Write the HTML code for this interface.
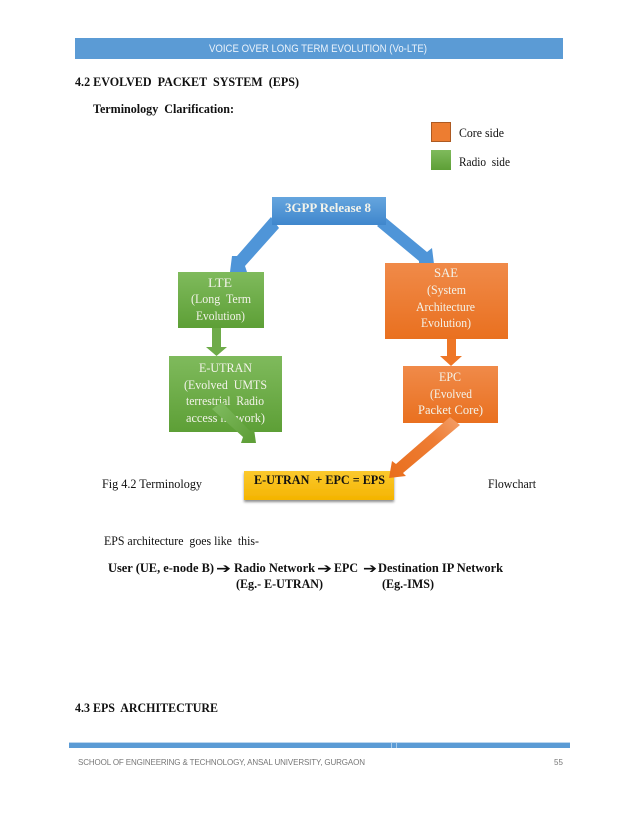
<!DOCTYPE html>
<html>
<head>
<meta charset="utf-8">
<title>4.2 Evolved Packet System</title>
<style>
html,body{margin:0;padding:0;background:#fff;width:638px;height:826px;overflow:hidden}
svg{display:block;filter:blur(.3px)}
text{font-family:"Liberation Serif",serif;font-size:13px;fill:#111;white-space:pre}
.b{font-weight:bold}
.w{fill:#f3f3ea}
.s{font-family:"Liberation Sans",sans-serif}
.a{font-family:"DejaVu Sans",sans-serif;font-weight:bold;font-size:14px}
</style>
</head>
<body>
<svg width="638" height="826" viewBox="0 0 638 826" xmlns="http://www.w3.org/2000/svg">
<defs>
<linearGradient id="blue" x1="0" y1="0" x2="0" y2="1"><stop offset="0" stop-color="#65a5de"/><stop offset="1" stop-color="#3f86cc"/></linearGradient>
<linearGradient id="green" x1="0" y1="0" x2="0" y2="1"><stop offset="0" stop-color="#7fba5c"/><stop offset="1" stop-color="#5d9f36"/></linearGradient>
<linearGradient id="orange" x1="0" y1="0" x2="0" y2="1"><stop offset="0" stop-color="#f08a49"/><stop offset="1" stop-color="#e9701f"/></linearGradient>
<linearGradient id="yellow" x1="0" y1="0" x2="0" y2="1"><stop offset="0" stop-color="#fbc92e"/><stop offset="1" stop-color="#f4b400"/></linearGradient>
<linearGradient id="gdiag" gradientUnits="userSpaceOnUse" x1="214" y1="405" x2="250" y2="440"><stop offset="0" stop-color="#7fbb5f"/><stop offset="1" stop-color="#5f9f38"/></linearGradient>
<linearGradient id="odiag" gradientUnits="userSpaceOnUse" x1="455" y1="420" x2="392" y2="475"><stop offset="0" stop-color="#f29a62"/><stop offset=".35" stop-color="#ee7d34"/><stop offset="1" stop-color="#e96f1e"/></linearGradient>
<filter id="shadow" x="-10%" y="-20%" width="120%" height="150%"><feDropShadow dx="0" dy="2" stdDeviation="1.2" flood-color="#000" flood-opacity=".45"/></filter>
</defs>

<!-- Header -->
<rect x="75" y="38" width="488" height="21" fill="#5b9bd5"/>
<text class="s" x="209" y="52" style="font-size:11px;fill:#eaf2fa" textLength="218" lengthAdjust="spacingAndGlyphs">VOICE OVER LONG TERM EVOLUTION (Vo-LTE)</text>

<!-- Headings -->
<text class="b" x="75" y="86" textLength="224" lengthAdjust="spacingAndGlyphs">4.2 EVOLVED  PACKET  SYSTEM  (EPS)</text>
<text class="b" x="93" y="113" textLength="141" lengthAdjust="spacingAndGlyphs">Terminology  Clarification:</text>

<!-- Legend -->
<rect x="431.5" y="122.5" width="19" height="19" fill="#ed7d31" stroke="#ad5a22"/>
<text x="459" y="137" textLength="45" lengthAdjust="spacingAndGlyphs">Core side</text>
<rect x="431" y="150" width="20" height="20" fill="url(#green)"/>
<text x="459" y="166" textLength="51" lengthAdjust="spacingAndGlyphs">Radio  side</text>

<!-- Blue arrows -->
<polygon points="279,228 271,217 237,256 232,256 230,272 247,272 245,266" fill="#4f95d8"/>
<polygon points="386,218 427,252 432,248 434,264 419,264 419,261 377,226" fill="#4f95d8"/>

<!-- Down arrows -->
<polygon points="212,328 221,328 221,347 227,347 216.5,356 206,347 212,347" fill="#6eab49"/>
<polygon points="447,339 456,339 456,356 462,356 451,366 440,356 447,356" fill="#ee7626"/>

<!-- Boxes -->
<rect x="272" y="197" width="114" height="28" fill="url(#blue)"/>
<text class="b w" x="285" y="212" textLength="86" lengthAdjust="spacingAndGlyphs">3GPP Release 8</text>

<rect x="178" y="272" width="86" height="56" fill="url(#green)"/>
<text class="w" x="208" y="287" textLength="24" lengthAdjust="spacingAndGlyphs">LTE</text>
<text class="w" x="191" y="303" textLength="60" lengthAdjust="spacingAndGlyphs">(Long  Term</text>
<text class="w" x="196" y="320" textLength="49" lengthAdjust="spacingAndGlyphs">Evolution)</text>

<rect x="385" y="263" width="123" height="76" fill="url(#orange)"/>
<text class="w" x="434" y="277" textLength="24" lengthAdjust="spacingAndGlyphs">SAE</text>
<text class="w" x="427" y="294" textLength="39" lengthAdjust="spacingAndGlyphs">(System</text>
<text class="w" x="416" y="311" textLength="59" lengthAdjust="spacingAndGlyphs">Architecture</text>
<text class="w" x="421" y="327" textLength="50" lengthAdjust="spacingAndGlyphs">Evolution)</text>

<rect x="169" y="356" width="113" height="76" fill="url(#green)"/>
<text class="w" x="199" y="372" textLength="53" lengthAdjust="spacingAndGlyphs">E-UTRAN</text>
<text class="w" x="184" y="389" textLength="83" lengthAdjust="spacingAndGlyphs">(Evolved  UMTS</text>
<text class="w" x="186" y="405" textLength="78" lengthAdjust="spacingAndGlyphs">terrestrial  Radio</text>
<text class="w" x="186" y="422" textLength="79" lengthAdjust="spacingAndGlyphs">access network)</text>

<rect x="403" y="366" width="95" height="57" fill="url(#orange)"/>
<text class="w" x="439" y="381" textLength="22" lengthAdjust="spacingAndGlyphs">EPC</text>
<text class="w" x="430" y="398" textLength="42" lengthAdjust="spacingAndGlyphs">(Evolved</text>
<text class="w" x="418" y="414" textLength="65" lengthAdjust="spacingAndGlyphs">Packet Core)</text>

<rect x="244" y="471" width="150" height="29" fill="url(#yellow)" filter="url(#shadow)"/>
<text class="b" x="254" y="484" textLength="131" lengthAdjust="spacingAndGlyphs">E-UTRAN  + EPC = EPS</text>

<!-- Diagonal arrows over boxes -->
<polygon points="222,402 250,431 254,429 256,443 241,443 243,437 212,409" fill="url(#gdiag)"/>
<polygon points="450,417 396,464 392,461 389,478 406,476 403,473 460,425" fill="url(#odiag)"/>

<!-- Caption -->
<text x="102" y="488" textLength="100" lengthAdjust="spacingAndGlyphs">Fig 4.2 Terminology</text>
<text x="488" y="488" textLength="48" lengthAdjust="spacingAndGlyphs">Flowchart</text>

<!-- Body -->
<text x="104" y="545" textLength="155" lengthAdjust="spacingAndGlyphs">EPS architecture  goes like  this-</text>
<text class="b" x="108" y="572" textLength="106" lengthAdjust="spacingAndGlyphs">User (UE, e-node B)</text>
<text class="a" x="216" y="573" textLength="15" lengthAdjust="spacingAndGlyphs">➔</text>
<text class="b" x="234" y="572" textLength="81" lengthAdjust="spacingAndGlyphs">Radio Network</text>
<text class="a" x="317" y="573" textLength="15" lengthAdjust="spacingAndGlyphs">➔</text>
<text class="b" x="334" y="572" textLength="24" lengthAdjust="spacingAndGlyphs">EPC</text>
<text class="a" x="363" y="573" textLength="14" lengthAdjust="spacingAndGlyphs">➔</text>
<text class="b" x="378" y="572" textLength="125" lengthAdjust="spacingAndGlyphs">Destination IP Network</text>
<text class="b" x="236" y="588" textLength="87" lengthAdjust="spacingAndGlyphs">(Eg.- E-UTRAN)</text>
<text class="b" x="382" y="588" textLength="52" lengthAdjust="spacingAndGlyphs">(Eg.-IMS)</text>

<text class="b" x="75" y="712" textLength="143" lengthAdjust="spacingAndGlyphs">4.3 EPS  ARCHITECTURE</text>

<!-- Footer -->
<rect x="69" y="742" width="501" height="1" fill="#bcd6ee"/>
<rect x="69" y="743" width="501" height="5" fill="#5b9bd5"/>
<rect x="391" y="743" width="1" height="5" fill="#a9cbea"/>
<rect x="396" y="743" width="1" height="5" fill="#a9cbea"/>
<text class="s" x="78" y="765" style="font-size:8px;fill:#777" textLength="287" lengthAdjust="spacing">SCHOOL OF ENGINEERING &amp; TECHNOLOGY, ANSAL UNIVERSITY, GURGAON</text>
<text class="s" x="554" y="765" style="font-size:8px;fill:#777" textLength="9" lengthAdjust="spacing">55</text>
</svg>
</body>
</html>
